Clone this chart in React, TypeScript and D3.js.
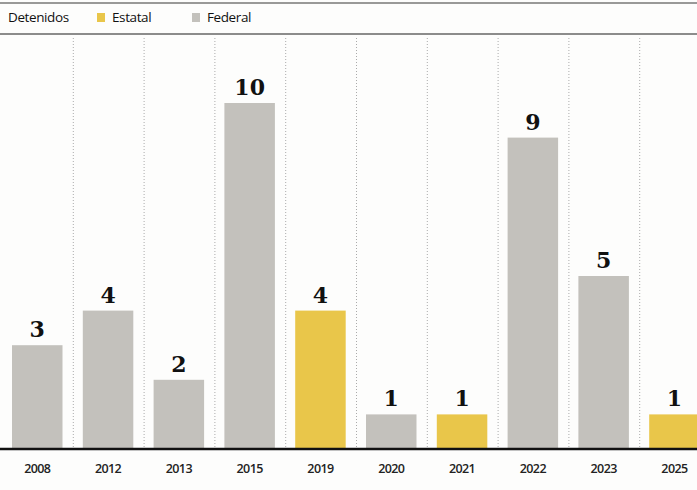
import React from "react";
import * as d3 from "d3";

const years = ["2008", "2012", "2013", "2015", "2019", "2020", "2021", "2022", "2023", "2025"];
const values = [3, 4, 2, 10, 4, 1, 1, 9, 5, 1];
const types = ["Federal", "Federal", "Federal", "Federal", "Estatal", "Federal", "Estatal", "Federal", "Federal", "Estatal"];
const legendItems = ["Estatal", "Federal"];

const W = 697;
const H = 490;
const colors: Record<string, string> = { Estatal: "#e9c64a", Federal: "#c3c1bc" };

export default function App() {
  const step = 70.8;
  const x0 = 2;
  const x = d3.scaleBand<string>().domain(years).range([x0, x0 + step * years.length]).paddingInner(0).paddingOuter(0);
  const baseY = 449;
  const y = d3.scaleLinear().domain([0, 10]).range([baseY, 103]);
  const barOffset = 10;
  const barW = 50.5;

  return (
    <svg width={W} height={H} style={{ position: "absolute", left: 0, top: 0, background: "#fff" }}>
      <rect x={0} y={0} width={W} height={H} fill="#fdfdfc" />
      <line x1={0} x2={W} y1={3} y2={3} stroke="#777" strokeWidth={1.5} />
      <line x1={0} x2={W} y1={34} y2={34} stroke="#666" strokeWidth={1.5} />
      <text x={8} y={22} fontFamily="'Open Sans', sans-serif" fontSize={13.5} fill="#111" letterSpacing={-0.4}>Detenidos</text>
      {legendItems.map((k, i) => {
        const lx = i === 0 ? 97 : 192;
        return (
          <g key={k}>
            <rect x={lx} y={13} width={8} height={9} fill={colors[k]} />
            <text x={lx + 15} y={22} fontFamily="'Open Sans', sans-serif" fontSize={13.5} fill="#111" letterSpacing={-0.4}>{k}</text>
          </g>
        );
      })}
      {years.slice(1).map((yr) => (
        <line key={yr} x1={x(yr)! + 0.5} x2={x(yr)! + 0.5} y1={38} y2={baseY} stroke="#aaa" strokeWidth={1} strokeDasharray="1,2" />
      ))}
      {years.map((yr, i) => {
        const bx = x(yr)! + barOffset;
        const cx = bx + barW / 2;
        return (
          <g key={yr}>
            <rect x={bx} y={y(values[i])} width={barW} height={baseY - y(values[i])} fill={colors[types[i]]} />
            <text x={cx} y={y(values[i]) - 8} textAnchor="middle" fontFamily="'DejaVu Serif', serif" fontWeight="bold" fontSize={22} fill="#111">{values[i]}</text>
            <text x={cx} y={473} textAnchor="middle" fontFamily="'Open Sans', sans-serif" fontWeight={600} fontSize={12.5} fill="#222" letterSpacing={-0.6}>{yr}</text>
          </g>
        );
      })}
      <line x1={0} x2={W} y1={baseY} y2={baseY} stroke="#111" strokeWidth={2.5} />
    </svg>
  );
}
